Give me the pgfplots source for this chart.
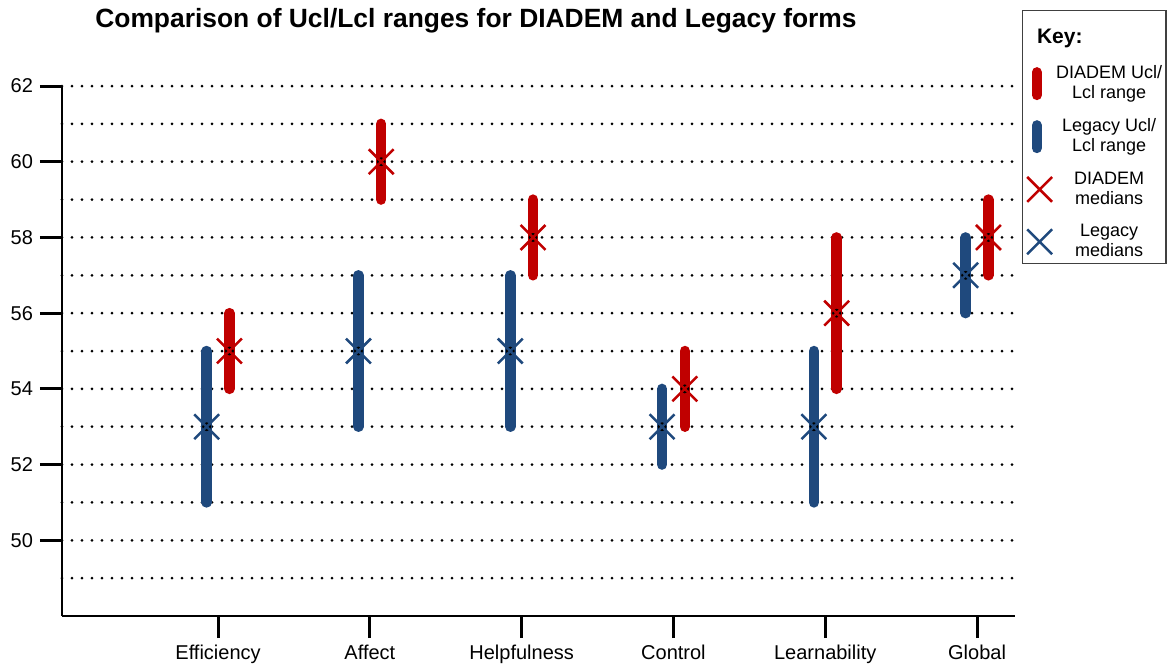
\documentclass[border=0pt]{standalone}
\usepackage{fontspec}
\setmainfont{Liberation Sans}
\usepackage{pgfplots}
\pgfplotsset{compat=1.18}
\usepackage{pgfplotstable}
\definecolor{myred}{RGB}{192,0,0}
\definecolor{myblue}{RGB}{31,73,125}

% Legacy forms: lower limit, median, upper limit
\pgfplotstableread{
idx lo med hi
0 51 53 55
1 53 55 57
2 53 55 57
3 52 53 54
4 51 53 55
5 56 57 58
}\legacy
% DIADEM forms
\pgfplotstableread{
idx lo med hi
0 54 55 56
1 59 60 61
2 57 58 59
3 53 54 55
4 54 56 58
5 57 58 59
}\diadem

\begin{document}
\begin{tikzpicture}
\useasboundingbox (0,0) rectangle (584pt,-333pt);
\begin{axis}[
  at={(31pt,-308pt)}, anchor=south west,
  scale only axis, width=476.5pt, height=265pt,
  xmin=-1.028, xmax=5.25, ymin=48, ymax=62,
  axis x line=bottom, axis y line=left,
  axis line style={-, line width=1.25pt, black},
  xtick={0,...,5},
  xticklabels={Efficiency,Affect,Helpfulness,Control,Learnability,Global},
  ytick={50,52,...,62}, minor ytick={49,51,...,61},
  tick align=outside, major tick length=11pt, minor tick length=0pt,
  major tick style={line width=1.5pt, black},
  ymajorgrids, yminorgrids,
  major grid style={line width=1.5pt, dash pattern=on 0pt off 5pt, line cap=round, black},
  minor grid style={line width=1.5pt, dash pattern=on 0pt off 5pt, line cap=round, black},
  tick label style={font=\fontsize{10}{12}\selectfont},
  /pgf/number format/assume math mode=true,
  clip=false,
  legend style={at={(1.0073,1.1434)}, anchor=north west, draw=black!75, line width=0.6pt,
    font=\fontsize{9}{10}\selectfont, cells={align=center}, row sep=4.5pt,
    inner xsep=0pt, inner ysep=0pt},
  legend cell align=center,
]
\addlegendimage{empty legend}
\addlegendentry{\makebox[0pt][l]{\hspace{-36pt}\rule{0pt}{15.5pt}\raisebox{1pt}{\bfseries\fontsize{10.5}{12}\selectfont Key:}}}
\addlegendimage{legend image code/.code={\draw[myred, line width=5pt, line cap=round] (0.25cm,-5.75pt) -- (0.25cm,5.75pt);}}
\addlegendentry{DIADEM Ucl/\\Lcl range}
\addlegendimage{legend image code/.code={\draw[myblue, line width=5pt, line cap=round] (0.25cm,-5.75pt) -- (0.25cm,5.75pt);}}
\addlegendentry{Legacy Ucl/\\Lcl range}
\addlegendimage{only marks, mark=x, mark size=8.8pt, myred, mark options={line width=1.25pt}}
\addlegendentry{DIADEM\\medians}
\addlegendimage{only marks, mark=x, mark size=8.8pt, myblue, mark options={line width=1.25pt}}
\addlegendentry{Legacy\\medians}

% ranges
\addplot[forget plot, only marks, mark=none,
  error bars/.cd, y dir=both, y explicit, error mark=none,
  error bar style={myblue, line width=5.25pt, line cap=round}]
  table[x expr=\thisrow{idx}-0.075, y=med,
        y error plus expr=\thisrow{hi}-\thisrow{med},
        y error minus expr=\thisrow{med}-\thisrow{lo}] {\legacy};
\addplot[forget plot, only marks, mark=none,
  error bars/.cd, y dir=both, y explicit, error mark=none,
  error bar style={myred, line width=5.25pt, line cap=round}]
  table[x expr=\thisrow{idx}+0.075, y=med,
        y error plus expr=\thisrow{hi}-\thisrow{med},
        y error minus expr=\thisrow{med}-\thisrow{lo}] {\diadem};
% medians
\addplot[forget plot, only marks, mark=x, mark size=8.8pt, myblue, mark options={line width=1.25pt}]
  table[x expr=\thisrow{idx}-0.075, y=med] {\legacy};
\addplot[forget plot, only marks, mark=x, mark size=8.8pt, myred, mark options={line width=1.25pt}]
  table[x expr=\thisrow{idx}+0.075, y=med] {\diadem};
\end{axis}
\node[anchor=base, font=\bfseries\fontsize{13.2}{15}\selectfont] at (238pt,-13.75pt)
  {Comparison of Ucl/Lcl ranges for DIADEM and Legacy forms};
\end{tikzpicture}
\end{document}
